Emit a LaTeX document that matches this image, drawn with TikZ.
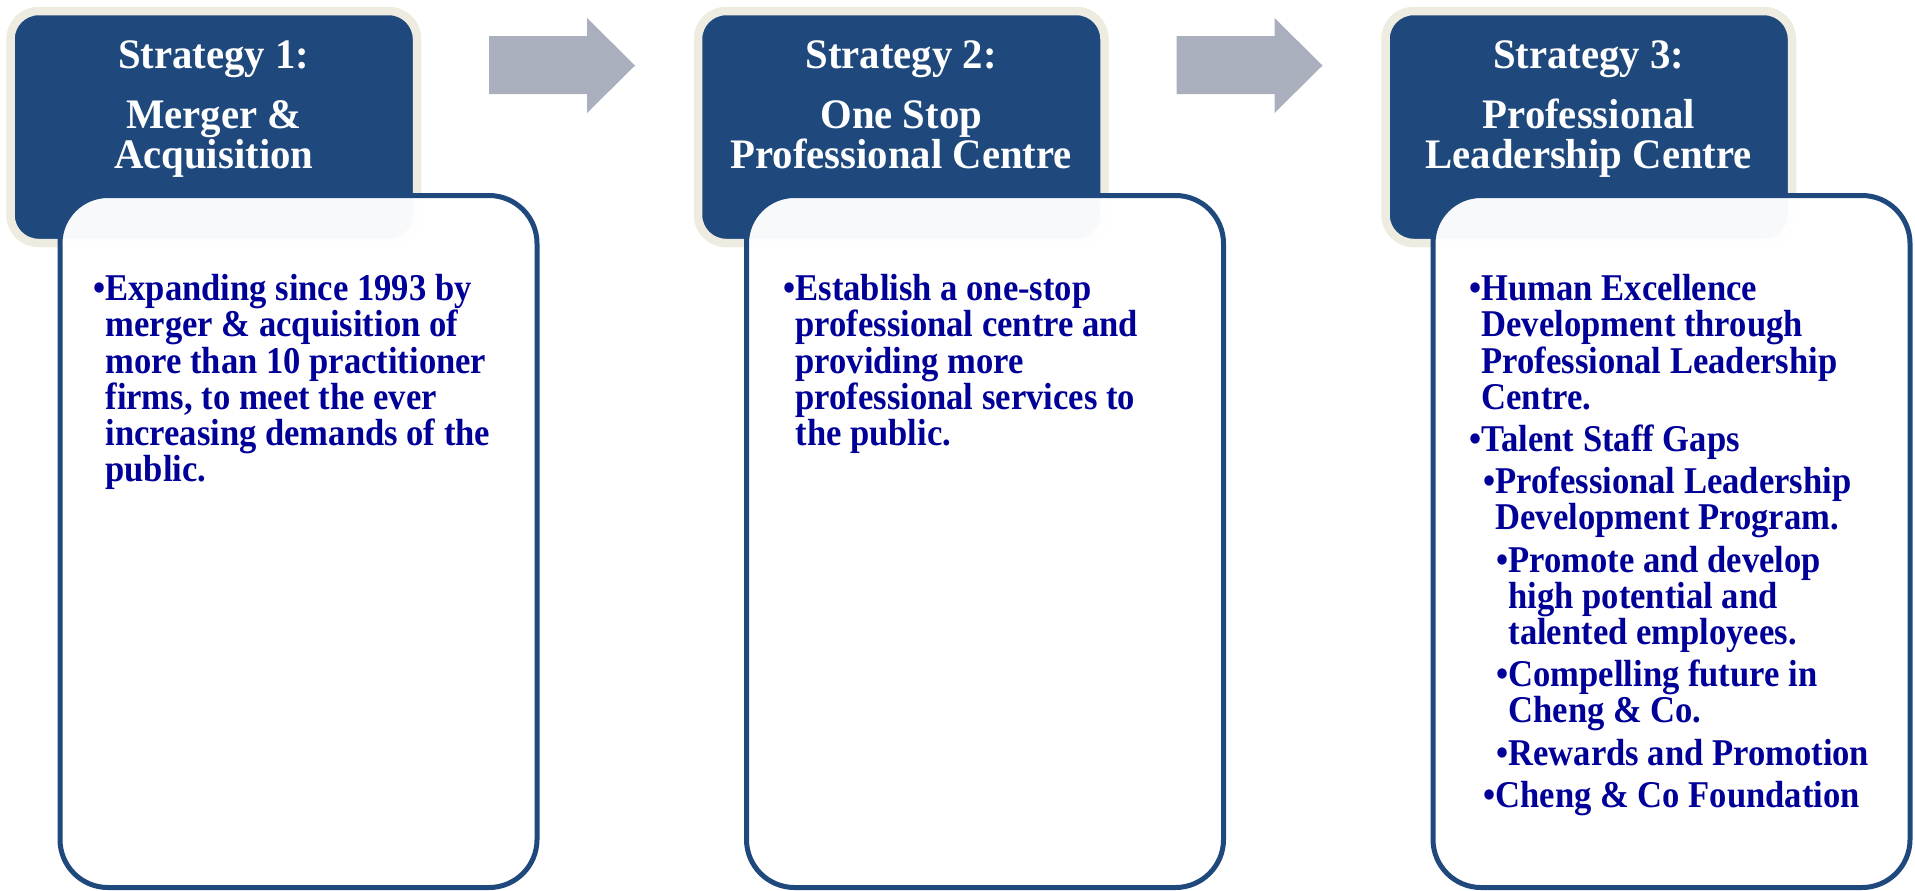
\documentclass[tikz,border=0pt]{standalone}
\usepackage{fontspec}
\setmainfont{Liberation Serif}
\newfontfamily\stratbodyfont[FakeStretch=0.915]{Liberation Serif}
\newfontfamily\strattitlefont[FakeStretch=0.97]{Liberation Serif}
\usepackage{tikz}
\usetikzlibrary{positioning}

\definecolor{stratblue}{RGB}{31,73,125}
\definecolor{stratcream}{RGB}{238,236,225}
\definecolor{arrowgray}{RGB}{169,175,188}
\definecolor{bodynavy}{RGB}{0,0,153}

\newcommand{\bul}{•}
\newcommand{\skipbul}{\hphantom{•}}
\newcommand{\lvltwo}{\hspace*{7pt}}
\newcommand{\lvlthree}{\hspace*{13.5pt}}

\begin{document}
\begin{tikzpicture}[x=0.5pt, y=-0.5pt,
                    header/.style={draw=stratcream, line width=4.25pt, fill=stratblue, rounded corners=14pt,
                                   minimum width=203.25pt, minimum height=116pt, inner sep=0pt},
                    title/.style={text=white, align=center, inner sep=0pt,
                                  font=\strattitlefont\bfseries\fontsize{21}{20}\selectfont},
                    bodybox/.style={draw=stratblue, line width=2.5pt, fill=white, fill opacity=0.97, rounded corners=24pt,
                                    minimum width=238.5pt, minimum height=346pt, inner sep=0pt},
                    bodytext/.style={text=bodynavy, align=left, inner sep=0pt, anchor=north west,
                                     font=\stratbodyfont\bfseries\fontsize{18.9}{18.1}\selectfont},
                    blockarrow/.style={fill=arrowgray},
                   ]

\useasboundingbox (0,0) rectangle (1915,890);

% header boxes
\node[header] (h1) at (213.75,127) {};
\node[header] (h2) at (901.25,127) {};
\node[header] (h3) at (1588.75,127) {};

\node[title, below=17pt of h1.north] (t1) {Strategy 1:\\[10pt]Merger \&\\Acquisition};
\node[title, below=17pt of h2.north] (t2) {Strategy 2:\\[10pt]One Stop\\Professional Centre};
\node[title, below=17pt of h3.north] (t3) {Strategy 3:\\[10pt]Professional\\Leadership Centre};

% arrows between headers
\fill[blockarrow] (489,36) -- (587,36) -- (587,18) -- (635,65.5) -- (587,113) -- (587,94) -- (489,94) -- cycle;
\fill[blockarrow] (1176.5,36) -- (1274.5,36) -- (1274.5,18) -- (1322.5,65.5) -- (1274.5,113) -- (1274.5,94) -- (1176.5,94) -- cycle;

% content boxes
\node[bodybox] (c1) at (298.5,541.5) {};
\node[bodybox] (c2) at (985,541.5) {};
\node[bodybox] (c3) at (1671.5,541.5) {};

\node[bodytext] (b1) at (93,274) {\bul Expanding since 1993 by\\
  \skipbul merger \& acquisition of\\
  \skipbul more than 10 practitioner\\
  \skipbul firms, to meet the ever\\
  \skipbul increasing demands of the\\
  \skipbul public.};

\node[bodytext] (b2) at (783,274) {\bul Establish a one-stop\\
  \skipbul professional centre and\\
  \skipbul providing more\\
  \skipbul professional services to\\
  \skipbul the public.};

\node[bodytext] (b3) at (1469,274) {\bul Human Excellence\\
  \skipbul Development through\\
  \skipbul Professional Leadership\\
  \skipbul Centre.\\[3pt]
  \bul Talent Staff Gaps\\[3pt]
  \lvltwo\bul Professional Leadership\\
  \lvltwo\skipbul Development Program.\\[3pt]
  \lvlthree\bul Promote and develop\\
  \lvlthree\skipbul high potential and\\
  \lvlthree\skipbul talented employees.\\[3pt]
  \lvlthree\bul Compelling future in\\
  \lvlthree\skipbul Cheng \& Co.\\[3pt]
  \lvlthree\bul Rewards and Promotion\\[3pt]
  \lvltwo\bul Cheng \& Co Foundation};

\end{tikzpicture}
\end{document}
